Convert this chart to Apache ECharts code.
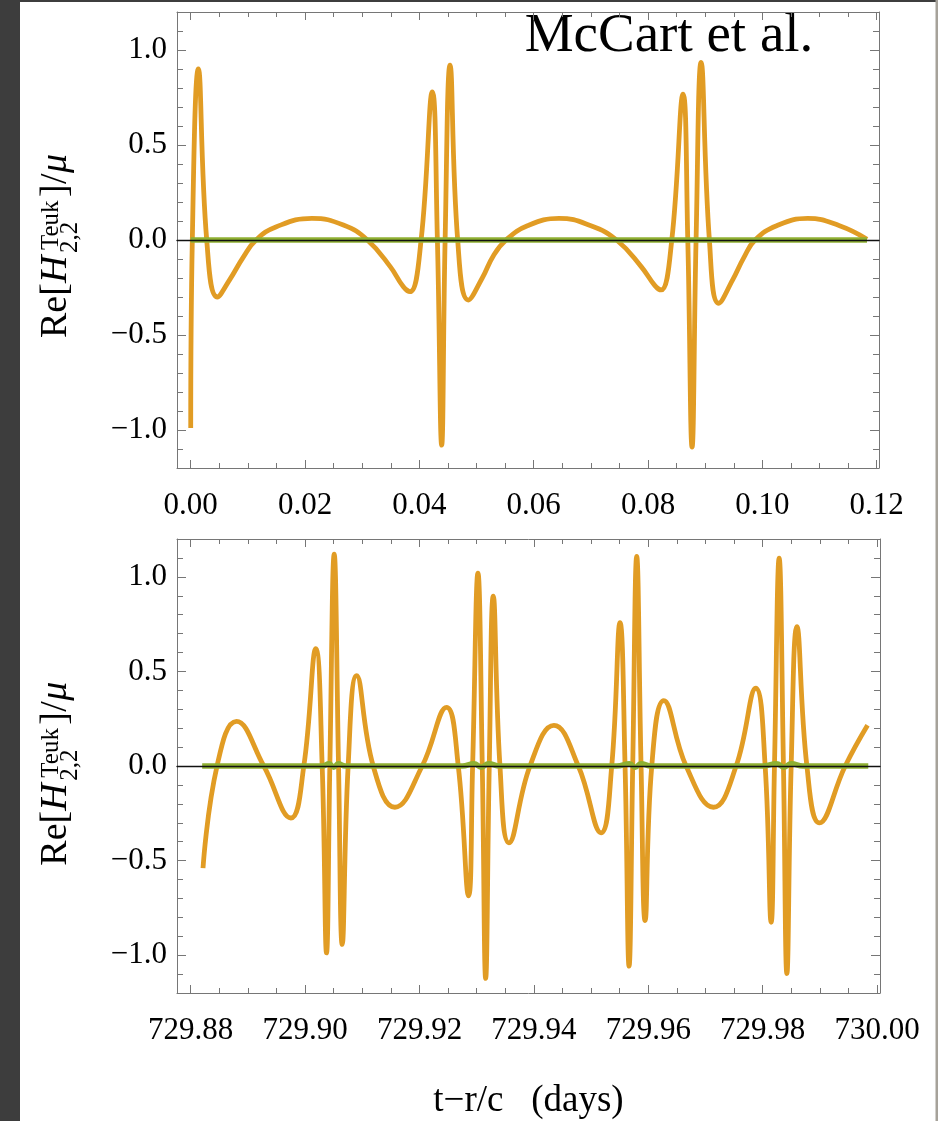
<!DOCTYPE html>
<html><head><meta charset="utf-8">
<script src="https://cdn.jsdelivr.net/npm/echarts@6/dist/echarts.min.js"></script>
<style>html,body{margin:0;padding:0;background:#fff}#c{width:938px;height:1121px}</style>
</head><body><div id="c"></div>
<script>
// ---------- data ----------
const topXTicks = [0.00, 0.02, 0.04, 0.06, 0.08, 0.10, 0.12];
const bottomXTicks = [729.88, 729.90, 729.92, 729.94, 729.96, 729.98, 730.00];
const yTicks = [-1.0, -0.5, 0.0, 0.5, 1.0];

const topOrange = [
  [0.0, -0.99], [0.00028, 0], [0.00133, 0.90], [0.0028, 0], [0.00466, -0.30],
  [0.0068, -0.21], [0.0092, -0.09], [0.01143, 0], [0.0150, 0.07], [0.0212, 0.114],
  [0.0267, 0.079], [0.0309, 0], [0.0349, -0.14], [0.0372, -0.246], [0.03837, -0.272],
  [0.0403, 0], [0.04227, 0.78], [0.04315, 0], [0.0439, -1.08], [0.0445, 0], [0.04536, 0.92],
  [0.0467, 0], [0.04857, -0.316], [0.0510, -0.20], [0.0530, -0.08],
  [0.05516, 0], [0.0589, 0.075], [0.06443, 0.114], [0.0700, 0.075], [0.0745, 0], [0.0788, -0.14],
  [0.0812, -0.24], [0.08228, -0.263], [0.08415, 0], [0.08613, 0.768], [0.08695, 0],
  [0.0877, -1.09], [0.0884, 0], [0.08928, 0.935], [0.09073, 0], [0.09237, -0.333],
  [0.0948, -0.21], [0.0968, -0.09], [0.09872, 0], [0.1025, 0.075], [0.10794, 0.114],
  [0.1135, 0.075], [0.1183, 0.004]
];
const topGreen = [[0.0, 0], [0.1183, 0]];

const bottomOrange = [
  [729.88215, -0.54], [729.88460, 0], [729.88800, 0.236], [729.89277, 0],
  [729.89750, -0.275], [729.89977, 0], [729.90187, 0.62], [729.90298, 0], [729.90374, -0.988],
  [729.90432, 0], [729.90508, 1.12], [729.90584, 0], [729.90648, -0.943], [729.90752, 0],
  [729.90900, 0.478], [729.91190, 0], [729.91569, -0.218], [729.92047, 0], [729.92473, 0.31],
  [729.92677, 0], [729.92858, -0.686], [729.92928, 0], [729.93021, 1.02], [729.93097, 0],
  [729.93156, -1.123], [729.93219, 0], [729.93289, 0.898], [729.93406, 0], [729.93563, -0.406],
  [729.93931, 0], [729.94350, 0.215], [729.94776, 0], [729.95173, -0.353], [729.95360, 0],
  [729.95505, 0.758], [729.95593, 0], [729.95663, -1.058], [729.95727, 0], [729.95797, 1.108],
  [729.95873, 0], [729.95943, -0.817], [729.96060, 0], [729.96270, 0.346], [729.96660, 0],
  [729.97138, -0.218], [729.97535, 0], [729.97879, 0.411], [729.98042, 0], [729.98147, -0.826],
  [729.98205, 0], [729.98287, 1.099], [729.98362, 0], [729.98422, -1.097], [729.98497, 0],
  [729.98597, 0.737], [729.98772, 0], [729.98992, -0.301], [729.99442, 0], [729.99832, 0.215]
];
const bottomGreen = [
  [729.8820, 0], [729.9030, 0], [729.9042, 0.012], [729.9050, -0.006], [729.9058, 0.012], [729.9070, 0],
  [729.9275, 0], [729.9295, 0.012], [729.9308, -0.006], [729.9321, 0.012], [729.9340, 0],
  [729.9545, 0], [729.9567, 0.012], [729.9577, -0.006], [729.9587, 0.012], [729.9605, 0],
  [729.9800, 0], [729.9824, 0.012], [729.9837, -0.006], [729.9850, 0.012], [729.9870, 0],
  [729.99845, 0]
];

// ---------- style ----------
const FONT = 'Liberation Serif';
const FRAME = '#767676';
const ORANGE = '#E19C24';
const GREEN = '#8FB032';

function xMinor(majors) {
  const out = [];
  for (let i = 0; i < majors.length - 1; i++)
    for (let k = 1; k < 4; k++) out.push(majors[i] + (majors[i + 1] - majors[i]) * k / 4);
  return out;
}
function yMinor(majors) {
  const out = [];
  const step = (majors[1] - majors[0]) / 5;
  for (let k = -1; k <= (majors.length - 1) * 5 + 1; k++) {
    if (k % 5 === 0) continue;
    out.push(majors[0] + step * k);
  }
  return out;
}
const fmtX = v => v.toFixed(2);
const fmtY = v => (v < -1e-9 ? '\u2212' : '') + Math.abs(v).toFixed(1);

function axis(dim, grid, min, max, pos, showLine, ticks, len, labels, fmt, extra) {
  return Object.assign({
    type: 'value', gridIndex: grid, min: min, max: max, position: pos,
    splitLine: { show: false },
    axisLine: { show: showLine, onZero: false, lineStyle: { color: FRAME, width: 1 } },
    axisTick: { show: !!ticks, inside: true, length: len, customValues: ticks || undefined,
                lineStyle: { color: FRAME, width: 1 } },
    axisLabel: { show: !!labels, customValues: labels || undefined, formatter: fmt, color: '#000',
                 fontFamily: FONT, fontSize: 31, margin: dim === 'x' ? 22 : 10 }
  }, extra || {});
}

const panels = [
  { grid: { left: 177, top: 12, width: 702, height: 456 }, xmin: -0.0024, xmax: 0.1204, xt: topXTicks,
    orange: topOrange, green: topGreen },
  { grid: { left: 177, top: 539, width: 703, height: 458 }, xmin: 729.8776, xmax: 730.0005, xt: bottomXTicks,
    orange: bottomOrange, green: bottomGreen,
    name: { name: 't\u2212r/c   (days)', nameLocation: 'middle', nameGap: 90,
            nameTextStyle: { fontFamily: FONT, fontSize: 37, color: '#000' } } }
];
const ymin = -1.2, ymax = 1.2;
const grids = [], xAxes = [], yAxes = [], series = [];
panels.forEach((p, g) => {
  grids.push(p.grid);
  const xi = xAxes.length, yi = yAxes.length;
  const xm = xMinor(p.xt), ym = yMinor(yTicks);
  xAxes.push(axis('x', g, p.xmin, p.xmax, 'bottom', true, p.xt, 8, p.xt, fmtX, p.name));
  xAxes.push(axis('x', g, p.xmin, p.xmax, 'bottom', false, xm, 5, null, fmtX));
  xAxes.push(axis('x', g, p.xmin, p.xmax, 'top', true, p.xt, 8, null, fmtX));
  xAxes.push(axis('x', g, p.xmin, p.xmax, 'top', false, xm, 5, null, fmtX));
  yAxes.push(axis('y', g, ymin, ymax, 'left', true, yTicks, 9, yTicks, fmtY));
  yAxes.push(axis('y', g, ymin, ymax, 'left', false, ym, 6, null, fmtY));
  yAxes.push(axis('y', g, ymin, ymax, 'right', true, yTicks, 9, null, fmtY));
  yAxes.push(axis('y', g, ymin, ymax, 'right', false, ym, 6, null, fmtY));
  // zero line drawn over the curves
  xAxes.push({ type: 'value', gridIndex: g, min: p.xmin, max: p.xmax, position: 'bottom', z: 10,
    splitLine: { show: false }, axisTick: { show: false }, axisLabel: { show: false },
    axisLine: { show: true, onZero: true, onZeroAxisIndex: yi, lineStyle: { color: '#111', width: 1.4 } } });
  series.push({ type: 'line', xAxisIndex: xi, yAxisIndex: yi, data: p.orange, smooth: 0.45,
    showSymbol: false, lineStyle: { color: ORANGE, width: 4.8 }, z: 2, silent: true });
  series.push({ type: 'line', xAxisIndex: xi, yAxisIndex: yi, data: p.green, smooth: 0.45,
    showSymbol: false, lineStyle: { color: GREEN, width: 5.5 }, z: 3, silent: true });
});

function yLabel(yStart) {
  const F = 38, S = 25;
  const mid = f => -0.305 * f;
  const t = (text, x, y, size, italic) => ({ type: 'text', x: x, y: y,
    style: { text: text, fontFamily: FONT, fontSize: size, fontStyle: italic ? 'italic' : 'normal',
             fill: '#000', align: 'left', verticalAlign: 'middle' } });
  return { type: 'group', x: 68, y: yStart, rotation: Math.PI / 2, children: [
    t('Re[', 0, mid(F), F, false),
    t('H', 55, mid(F), F, true),
    t('Teuk', 88, -9 + mid(S), S, false),
    t('2,2', 85, 10 + mid(S), S, false),
    t(']', 141, mid(F), F, false),
    t('/', 154, mid(F), F, false),
    t('\u03bc', 165, mid(F), F, true)
  ] };
}

const chart = echarts.init(document.getElementById('c'), null, { renderer: 'canvas' });
chart.setOption({
  animation: false,
  backgroundColor: '#fff',
  grid: grids, xAxis: xAxes, yAxis: yAxes, series: series,
  graphic: [
    { type: 'rect', shape: { x: 0, y: 0, width: 20, height: 1121 }, style: { fill: '#3d3d3d' }, silent: true },
    { type: 'rect', shape: { x: 0, y: 0, width: 938, height: 2 }, style: { fill: '#3d3d3d' }, silent: true },
    { type: 'rect', shape: { x: 935.5, y: 0, width: 2.5, height: 1121 }, style: { fill: '#a6a29a' }, silent: true },
    { type: 'text', x: 669, y: 37, style: { text: 'McCart et al.', fontFamily: FONT, fontSize: 55, fill: '#000',
      align: 'center', verticalAlign: 'middle' }, silent: true },
    yLabel(338),
    yLabel(865.7)
  ]
});
</script>
</body></html>
